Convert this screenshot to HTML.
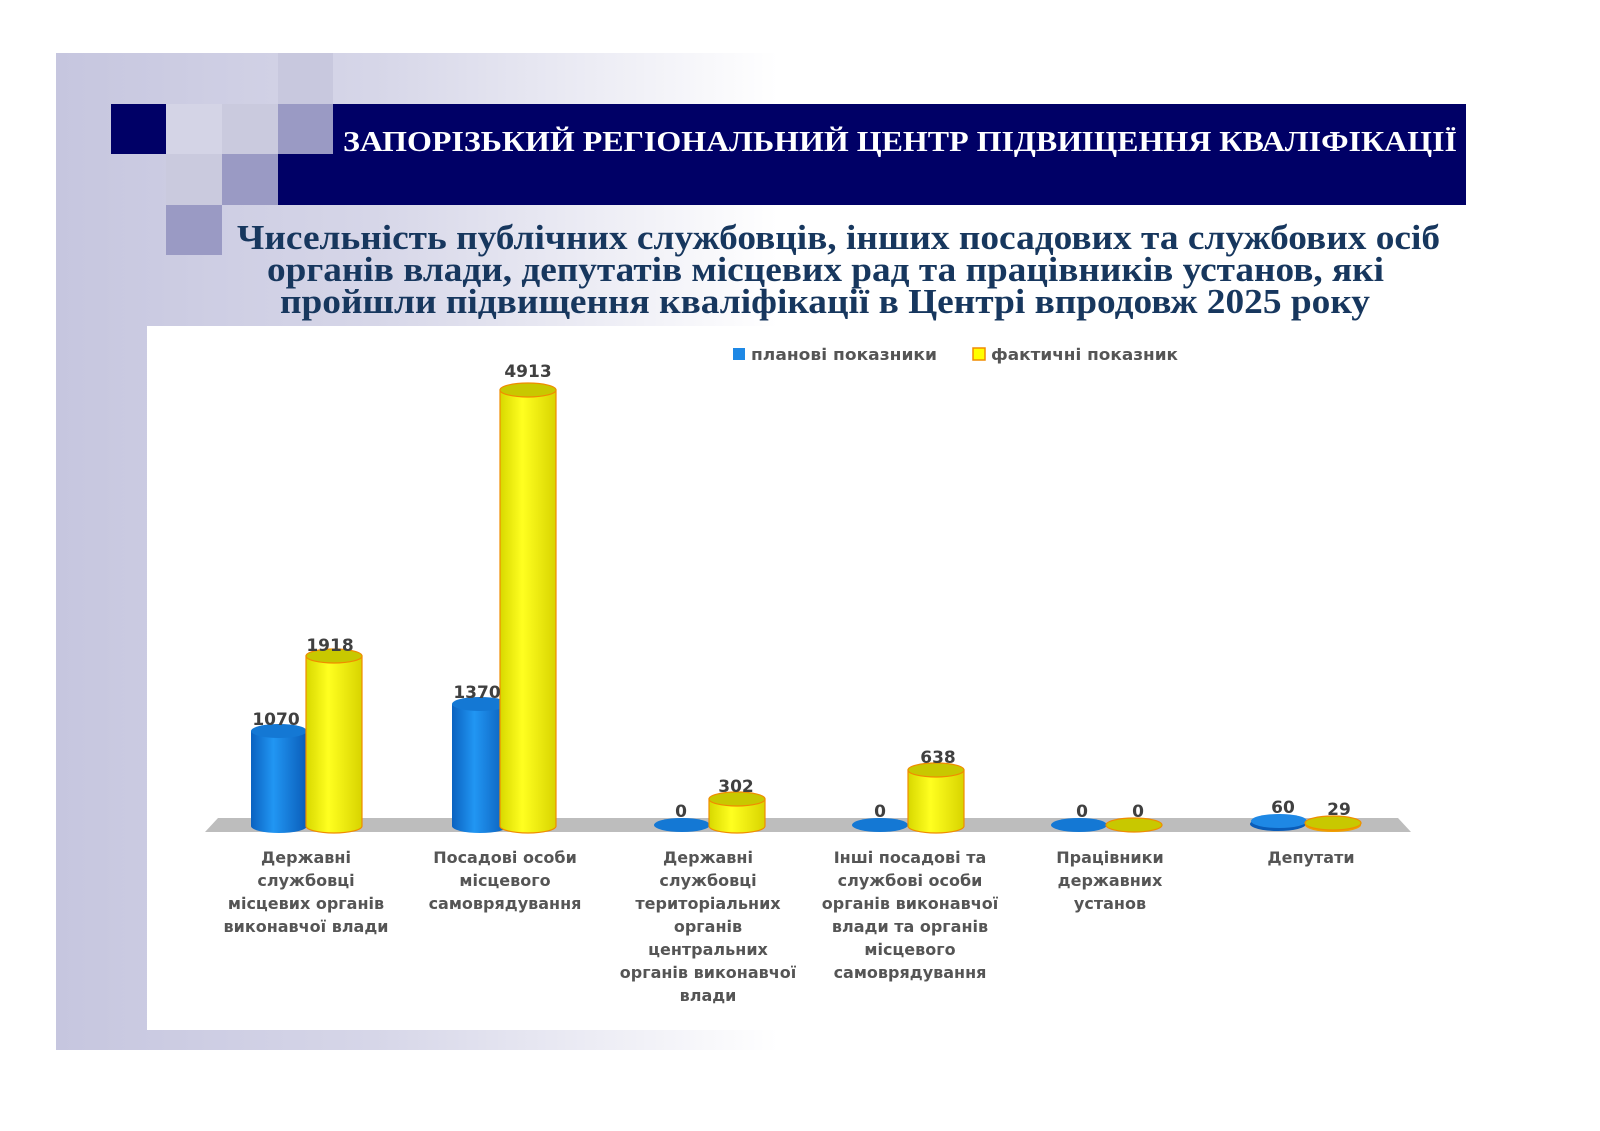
<!DOCTYPE html>
<html><head><meta charset="utf-8"><style>
body{margin:0;background:#fff;}
svg{display:block;}
</style></head><body>
<svg width="1600" height="1131" viewBox="0 0 1600 1131" xmlns="http://www.w3.org/2000/svg">
<defs>
<linearGradient id="bg" x1="0" y1="0" x2="1" y2="0">
<stop offset="0" stop-color="#c6c6df"/><stop offset="0.22" stop-color="#d6d6e8"/><stop offset="0.5" stop-color="#ffffff"/></linearGradient>
<linearGradient id="bl" x1="0" y1="0" x2="1" y2="0">
<stop offset="0" stop-color="#0a62c0"/><stop offset="0.4" stop-color="#2196f3"/><stop offset="1" stop-color="#0a5cb8"/></linearGradient>
<linearGradient id="ye" x1="0" y1="0" x2="1" y2="0">
<stop offset="0" stop-color="#d8d800"/><stop offset="0.4" stop-color="#ffff20"/><stop offset="1" stop-color="#d8d400"/></linearGradient>
</defs>
<rect x="56" y="53" width="1444" height="997" fill="url(#bg)"/>
<rect x="147" y="326" width="1350" height="704" fill="#fff"/>
<rect x="278" y="53" width="55" height="51" fill="#c8c8de"/>
<rect x="111" y="104" width="55" height="50" fill="#000066"/>
<rect x="166" y="104" width="56" height="50" fill="#d4d4e6"/>
<rect x="222" y="104" width="56" height="50" fill="#cacade"/>
<rect x="278" y="104" width="55" height="50" fill="#9a9ac4"/>
<rect x="166" y="154" width="56" height="51" fill="#cacade"/>
<rect x="222" y="154" width="56" height="51" fill="#9a9ac4"/>
<rect x="166" y="205" width="56" height="50" fill="#9a9ac4"/>
<rect x="333" y="104" width="1133" height="101" fill="#000066"/>
<rect x="278" y="154" width="56" height="51" fill="#000066"/>
<text x="343" y="151" textLength="1114" lengthAdjust="spacingAndGlyphs" font-family="Liberation Serif,serif" font-weight="bold" font-size="29" fill="#fff">ЗАПОРІЗЬКИЙ РЕГІОНАЛЬНИЙ ЦЕНТР ПІДВИЩЕННЯ КВАЛІФІКАЦІЇ</text>
<g font-family="Liberation Serif,serif" font-weight="bold" font-size="35" fill="#17375e">
<text x="237" y="249" textLength="1203" lengthAdjust="spacingAndGlyphs">Чисельність публічних службовців, інших посадових та службових осіб</text>
<text x="267" y="281" textLength="1117" lengthAdjust="spacingAndGlyphs">органів влади, депутатів місцевих рад та працівників установ, які</text>
<text x="280" y="313" textLength="1090" lengthAdjust="spacingAndGlyphs">пройшли підвищення кваліфікації в Центрі впродовж 2025 року</text>
</g>
<rect x="733" y="348" width="12" height="12" fill="#1e88e5"/>
<text x="751" y="360" textLength="186" lengthAdjust="spacingAndGlyphs" font-family="DejaVu Sans,sans-serif" font-weight="bold" font-size="16" fill="#555">планові показники</text>
<rect x="973" y="348" width="12" height="12" fill="#ffff00" stroke="#f08c00" stroke-width="1.5"/>
<text x="991" y="360" textLength="187" lengthAdjust="spacingAndGlyphs" font-family="DejaVu Sans,sans-serif" font-weight="bold" font-size="16" fill="#555">фактичні показник</text>
<polygon points="218,818 1398,818 1411,832 205,832" fill="#bdbdbd"/>
<path d="M251,731 V826 A28,7 0 0 0 307,826 V731 Z" fill="url(#bl)"/><ellipse cx="279" cy="731" rx="28" ry="7" fill="#1478d4"/>
<path d="M306,656 V826 A28,7 0 0 0 362,826 V656 Z" fill="url(#ye)" stroke="#f08c00" stroke-width="1.2"/><ellipse cx="334" cy="656" rx="28" ry="7" fill="#c8c800" stroke="#f08c00" stroke-width="1.2"/>
<path d="M452,704 V826 A28,7 0 0 0 508,826 V704 Z" fill="url(#bl)"/><ellipse cx="480" cy="704" rx="28" ry="7" fill="#1478d4"/>
<path d="M500,390 V826 A28,7 0 0 0 556,826 V390 Z" fill="url(#ye)" stroke="#f08c00" stroke-width="1.2"/><ellipse cx="528" cy="390" rx="28" ry="7" fill="#c8c800" stroke="#f08c00" stroke-width="1.2"/>
<ellipse cx="682" cy="825" rx="28" ry="7" fill="#1478d4"/>
<path d="M709,799 V826 A28,7 0 0 0 765,826 V799 Z" fill="url(#ye)" stroke="#f08c00" stroke-width="1.2"/><ellipse cx="737" cy="799" rx="28" ry="7" fill="#c8c800" stroke="#f08c00" stroke-width="1.2"/>
<ellipse cx="880" cy="825" rx="28" ry="7" fill="#1478d4"/>
<path d="M908,770 V826 A28,7 0 0 0 964,826 V770 Z" fill="url(#ye)" stroke="#f08c00" stroke-width="1.2"/><ellipse cx="936" cy="770" rx="28" ry="7" fill="#c8c800" stroke="#f08c00" stroke-width="1.2"/>
<ellipse cx="1079" cy="825" rx="28" ry="7" fill="#1478d4"/>
<ellipse cx="1134" cy="825" rx="28" ry="7" fill="#c8c800" stroke="#f08c00" stroke-width="1.2"/>
<ellipse cx="1278" cy="824" rx="28" ry="7" fill="#0a5cb8"/><ellipse cx="1279" cy="821" rx="28" ry="7" fill="#1e88e5"/>
<ellipse cx="1333" cy="825" rx="28" ry="7" fill="#f0a000"/><ellipse cx="1333" cy="823" rx="28" ry="7" fill="#c8c800" stroke="#f08c00" stroke-width="1.2"/>
<g font-family="DejaVu Sans,sans-serif" font-weight="bold" font-size="17" fill="#404040" text-anchor="middle">
<text x="276" y="725">1070</text><text x="330" y="651">1918</text>
<text x="477" y="698">1370</text><text x="528" y="377">4913</text>
<text x="681" y="817">0</text><text x="736" y="792">302</text>
<text x="880" y="817">0</text><text x="938" y="763">638</text>
<text x="1082" y="817">0</text><text x="1138" y="817">0</text>
<text x="1283" y="813">60</text><text x="1339" y="815">29</text>
</g>
<g font-family="DejaVu Sans,sans-serif" font-weight="bold" font-size="16" fill="#555" text-anchor="middle">
<text x="306" y="863">Державні</text><text x="306" y="886">службовці</text><text x="306" y="909">місцевих органів</text><text x="306" y="932">виконавчої влади</text>
<text x="505" y="863">Посадові особи</text><text x="505" y="886">місцевого</text><text x="505" y="909">самоврядування</text>
<text x="708" y="863">Державні</text><text x="708" y="886">службовці</text><text x="708" y="909">територіальних</text><text x="708" y="932">органів</text><text x="708" y="955">центральних</text><text x="708" y="978">органів виконавчої</text><text x="708" y="1001">влади</text>
<text x="910" y="863">Інші посадові та</text><text x="910" y="886">службові особи</text><text x="910" y="909">органів виконавчої</text><text x="910" y="932">влади та органів</text><text x="910" y="955">місцевого</text><text x="910" y="978">самоврядування</text>
<text x="1110" y="863">Працівники</text><text x="1110" y="886">державних</text><text x="1110" y="909">установ</text>
<text x="1311" y="863">Депутати</text>
</g>
</svg>
</body></html>
